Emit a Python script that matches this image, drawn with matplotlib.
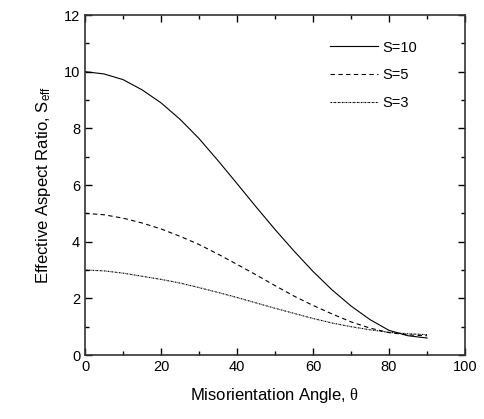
import matplotlib
matplotlib.use("Agg")
import matplotlib.pyplot as plt
from matplotlib.ticker import MultipleLocator

plt.rcParams['font.family'] = ['Liberation Sans', 'DejaVu Sans']
plt.rcParams['mathtext.fontset'] = 'custom'
plt.rcParams['mathtext.rm'] = 'Liberation Serif'
plt.rcParams['mathtext.it'] = 'Liberation Serif'
plt.rcParams['mathtext.sf'] = 'Liberation Sans'

# misorientation angle (deg)
theta = [0, 5, 10, 15, 20, 25, 30, 35, 40, 45, 50, 55, 60, 65, 70, 75, 80, 85, 90]

s10 = [10.0, 9.92, 9.72, 9.36, 8.9, 8.32, 7.64, 6.86, 6.05, 5.23, 4.43, 3.67, 2.95,
       2.3, 1.73, 1.25, 0.87, 0.68, 0.6]
s5 = [5.0, 4.95, 4.83, 4.66, 4.45, 4.19, 3.9, 3.56, 3.2, 2.83, 2.45, 2.08, 1.75,
      1.45, 1.17, 0.95, 0.79, 0.71, 0.68]
s3 = [3.0, 2.97, 2.89, 2.78, 2.67, 2.54, 2.38, 2.21, 2.03, 1.84, 1.65, 1.47, 1.29,
      1.13, 1.0, 0.89, 0.8, 0.75, 0.72]

fig = plt.figure(figsize=(4.85, 4.19), dpi=100)
ax = fig.add_axes([0.1753, 0.1527, 0.7835, 0.8115])

ax.plot(theta, s10, color='black', lw=0.8, ls='-', label='S=10')
ax.plot(theta, s5, color='black', lw=0.8, ls=(0, (4, 3)), label='S=5')
ax.plot(theta, s3, color='black', lw=0.8, ls=(0, (1.5, 0.7, 0.5, 0.7)), label='S=3')

ax.set_xlim(0, 100)
ax.set_ylim(0, 12)
ax.xaxis.set_major_locator(MultipleLocator(20))
ax.xaxis.set_minor_locator(MultipleLocator(10))
ax.yaxis.set_major_locator(MultipleLocator(2))
ax.yaxis.set_minor_locator(MultipleLocator(1))
ax.tick_params(which='both', direction='in', top=True, right=True, labelsize=10.5, width=1.0)
ax.tick_params(which='major', length=5)
ax.tick_params(which='minor', length=3)
for sp in ax.spines.values():
    sp.set_linewidth(1.2)
    sp.set_color('#333333')

ax.set_xlabel(r'Misorientation Angle, $\theta$', fontsize=12, labelpad=9)
ax.set_ylabel(r'Effective Aspect Ratio, S$_{\mathsf{eff}}$', fontsize=12, labelpad=8)

ax.legend(loc='upper left', bbox_to_anchor=(0.645, 0.925), frameon=False, fontsize=10.5,
          borderpad=0, borderaxespad=0, handlelength=3.3, handletextpad=0.3,
          labelspacing=0.95)

fig.savefig('out.png', dpi=100)
